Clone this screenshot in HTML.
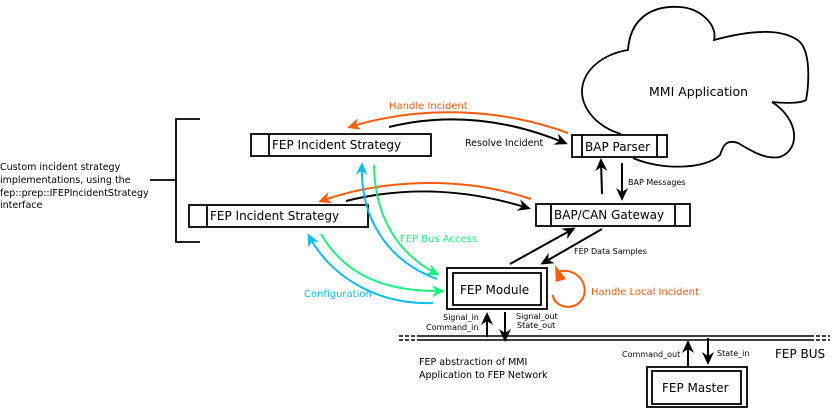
<!DOCTYPE html>
<html><head><meta charset="utf-8"><style>
html,body{margin:0;padding:0;background:#fff;}
svg{display:block;}
text{font-family:"DejaVu Sans","Liberation Sans",sans-serif;}
</style></head><body>
<svg width="832" height="408" viewBox="0 0 832 408" xmlns="http://www.w3.org/2000/svg">
<defs>
<marker id="ak" markerWidth="14" markerHeight="12" refX="10" refY="6" orient="auto" markerUnits="userSpaceOnUse"><path d="M0,0 L13,6 L0,12 L4,6 z" fill="#000"/></marker>
<marker id="ao" markerWidth="14" markerHeight="12" refX="10" refY="6" orient="auto" markerUnits="userSpaceOnUse"><path d="M0,0 L13,6 L0,12 L4,6 z" fill="#ff5a0a"/></marker>
<marker id="ag" markerWidth="14" markerHeight="12" refX="10" refY="6" orient="auto" markerUnits="userSpaceOnUse"><path d="M0,0 L13,6 L0,12 L4,6 z" fill="#19f27d"/></marker>
<marker id="ab" markerWidth="14" markerHeight="12" refX="10" refY="6" orient="auto" markerUnits="userSpaceOnUse"><path d="M0,0 L13,6 L0,12 L4,6 z" fill="#0cbcf5"/></marker>
</defs>
<g fill="none" stroke="#000" stroke-width="1.8">
<path d="M621,134 C590,125 570,95 590,70 C600,58 615,52 628,50 C630,20 650,5 680,7 C700,8 718,25 714,40 C740,33 780,25 800,42 C812,55 808,90 806,100 C800,104 780,103 772,102 C800,120 800,150 780,157 C765,160 750,150 738,143 C724,138 722,150 720,155 C705,170 660,170 633,158"/>
<path d="M200,119 H176 V242 H200 M150,180 H176"/>
</g>
<g fill="#fff" stroke="#000" stroke-width="1.8">
<rect x="572" y="135" width="95" height="22"/><path d="M582,135 V157 M657,135 V157"/>
<rect x="536" y="204" width="154" height="22"/><path d="M551,204 V226 M675,204 V226"/>
<rect x="251" y="134" width="180" height="22"/><path d="M269,134 V156"/>
<rect x="189" y="205" width="179" height="22"/><path d="M207,205 V227"/>
<rect x="447" y="268" width="100" height="41"/><rect x="453" y="273" width="88" height="32"/>
<rect x="647" y="367" width="100" height="40"/><rect x="652" y="371" width="89" height="33"/>
</g>
<g stroke="#000" stroke-width="1.5">
<path d="M418,336 H810 M418,340 H810"/>
<path d="M399,336 H418 M399,340 H418 M810,336 H830 M810,340 H830" stroke-dasharray="4,2"/>
</g>
<g fill="none" stroke-width="2">
<path d="M568,133 C500,108 420,105 350,127" stroke="#ff5a0a" marker-end="url(#ao)"/>
<path d="M389,127 C450,112 510,120 565,143" stroke="#000" marker-end="url(#ak)"/>
<path d="M531,199 C460,175 380,180 321,201" stroke="#ff5a0a" marker-end="url(#ao)"/>
<path d="M346,201 C410,185 470,190 528,208" stroke="#000" marker-end="url(#ak)"/>
<path d="M374,165 C375,220 400,255 437,274" stroke="#19f27d" marker-end="url(#ag)"/>
<path d="M437,279 C385,260 360,215 362,165" stroke="#0cbcf5" marker-end="url(#ab)"/>
<path d="M321,234 C345,275 385,292 442,291" stroke="#19f27d" marker-end="url(#ag)"/>
<path d="M433,303 C375,305 330,275 309,236" stroke="#0cbcf5" marker-end="url(#ab)"/>
<path d="M510,264 L573,229" stroke="#000" marker-end="url(#ak)"/>
<path d="M602,229 L543,263" stroke="#000" marker-end="url(#ak)"/>
<path d="M602,194 L601,161" stroke="#000" marker-end="url(#ak)"/>
<path d="M622,163 L622,198" stroke="#000" marker-end="url(#ak)"/>
<path d="M556,272 C580,265 592,290 580,302 C570,312 553,305 553,295" stroke="#ff5a0a"/>
<path d="M555,265 L566,279 L556,282 z" fill="#ff5a0a" stroke="none"/>
<path d="M487,337 L487,315" stroke="#000" marker-end="url(#ak)"/>
<path d="M505,312 L505,339" stroke="#000" marker-end="url(#ak)"/>
<path d="M688,366 L688,343" stroke="#000" marker-end="url(#ak)"/>
<path d="M708,338 L708,362" stroke="#000" marker-end="url(#ak)"/>
</g>
<g font-size="12" fill="#000">
<text x="649" y="96" font-size="12.5">MMI Application</text>
<text x="585" y="151">BAP Parser</text>
<text x="554" y="219">BAP/CAN Gateway</text>
<text x="272" y="149">FEP Incident Strategy</text>
<text x="210" y="220">FEP Incident Strategy</text>
<text x="460" y="294">FEP Module</text>
<text x="662" y="392">FEP Master</text>
<text x="775" y="358">FEP BUS</text>
</g>
<g font-size="9.5" fill="#000">
<text x="465" y="146">Resolve Incident</text>
<text x="0" y="170">Custom incident strategy</text>
<text x="0" y="183">implementations, using the</text>
<text x="0" y="196">fep::prep::IFEPIncidentStrategy</text>
<text x="0" y="208">interface</text>
<text x="419" y="365">FEP abstraction of MMI</text>
<text x="419" y="378">Application to FEP Network</text>
</g>
<g font-size="8" fill="#000">
<text x="628" y="185">BAP Messages</text>
<text x="574" y="254">FEP Data Samples</text>
<text x="443" y="320">Signal_in</text>
<text x="426" y="330">Command_in</text>
<text x="516" y="319">Signal_out</text>
<text x="517" y="328">State_out</text>
<text x="622" y="357">Command_out</text>
<text x="717" y="356">State_in</text>
</g>
<g font-size="10">
<text x="389" y="109" fill="#ff5a0a">Handle Incident</text>
<text x="591" y="295" fill="#ff5a0a">Handle Local Incident</text>
<text x="400" y="242" fill="#19f27d">FEP Bus Access</text>
<text x="304" y="297" fill="#0cbcf5">Configuration</text>
</g>
</svg>
</body></html>
